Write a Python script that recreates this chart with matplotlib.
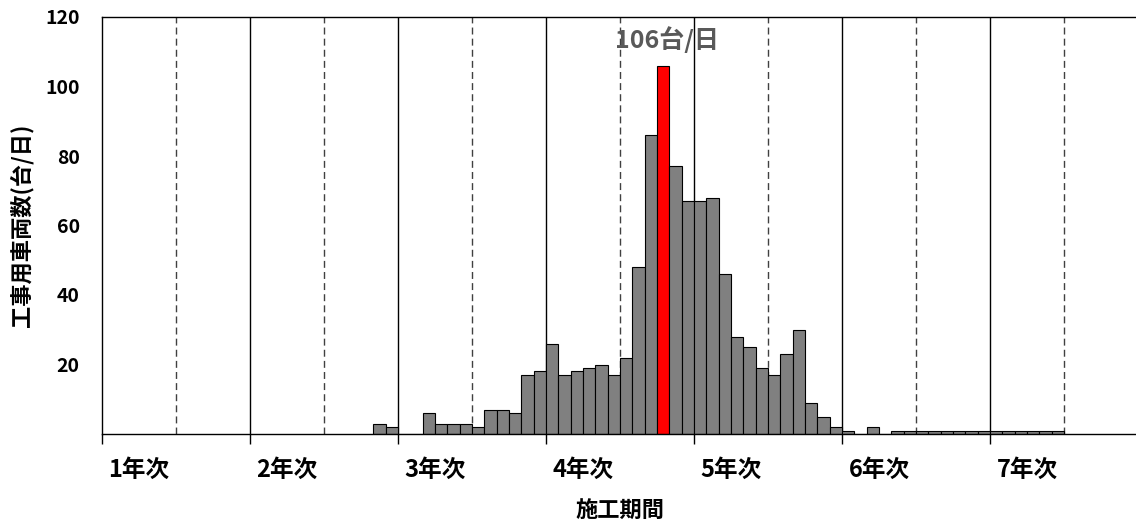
import matplotlib
matplotlib.use("Agg")
import matplotlib.pyplot as plt
import matplotlib.transforms as mtransforms

plt.rcParams["font.family"] = ["Noto Sans CJK JP", "DejaVu Sans"]
plt.rcParams["font.weight"] = "bold"

# monthly vehicle counts (month index from start of year 1)
months = [22, 23, 24, 25, 26, 27, 28, 29, 30, 31, 32, 33, 34, 35, 36, 37, 38, 39,
          40, 41, 42, 43, 44, 45, 46, 47, 48, 49, 50, 51, 52, 53, 54, 55, 56, 57,
          58, 59, 60, 61, 62, 63, 64, 65, 66, 67, 68, 69, 70, 71, 72, 73, 74, 75,
          76, 77]
vehicles = [3, 2, 0, 0, 6, 3, 3, 3, 2, 7, 7, 6, 17, 18, 26, 17, 18, 19,
            20, 17, 22, 48, 86, 106, 77, 67, 67, 68, 46, 28, 25, 19, 17, 23, 30, 9,
            5, 2, 1, 0, 2, 0, 1, 1, 1, 1, 1, 1, 1, 1, 1, 1, 1, 1,
            1, 1]
year_labels = ["1年次", "2年次", "3年次", "4年次", "5年次", "6年次", "7年次"]
yticks = [20, 40, 60, 80, 100, 120]

peak = max(vehicles)
colors = ["#FF0000" if v == peak else "#808080" for v in vehicles]

fig = plt.figure(figsize=(11.36, 5.25), dpi=100)
ax = fig.add_axes([102 / 1136, 1 - 434 / 525, 1036 / 1136, 417 / 525])

# year grid: solid at year boundaries, dashed at half years
for k in range(1, 7):
    ax.axvline(12 * k, color="black", lw=1.0, zorder=1)
for k in range(7):
    ax.axvline(12 * k + 6, color="#404040", lw=1.0, ls=(0, (5, 3)), zorder=1)

ax.bar([m + 0.5 for m in months], vehicles, width=1.0, color=colors,
       edgecolor="black", linewidth=0.8, zorder=2)

ax.text(months[vehicles.index(peak)] + 0.8, 113.5, f"{peak}台/日",
        ha="center", va="center", fontsize=18, color="#595959",
        fontweight="bold", zorder=3)

ax.set_xlim(0, 84)
ax.set_ylim(0, 120)
ax.set_yticks(yticks)
ax.set_yticklabels([str(t) for t in yticks], fontsize=14, fontweight="bold")
ax.tick_params(axis="y", length=0, pad=16)
ax.set_xticks(range(0, 84, 12))
ax.set_xticklabels([])
ax.tick_params(axis="x", length=7, width=1, direction="out", color="black")

trans = mtransforms.blended_transform_factory(ax.transData, fig.transFigure)
for i, lab in enumerate(year_labels):
    ax.text(12 * i + 3, 1 - 470 / 525, lab, transform=trans, ha="center",
            va="center", fontsize=17, fontweight="bold")

fig.text(620 / 1136, 1 - 510 / 525, "施工期間", ha="center", va="center",
         fontsize=16, fontweight="bold")
fig.text(22 / 1136, 1 - 225 / 525, "工事用車両数(台/日)", ha="center",
         va="center", rotation=90, fontsize=16, fontweight="bold")

for side in ["left", "bottom", "top"]:
    ax.spines[side].set_color("black")
    ax.spines[side].set_linewidth(1.0)
ax.spines["right"].set_visible(False)

fig.savefig("out.png", dpi=100)
